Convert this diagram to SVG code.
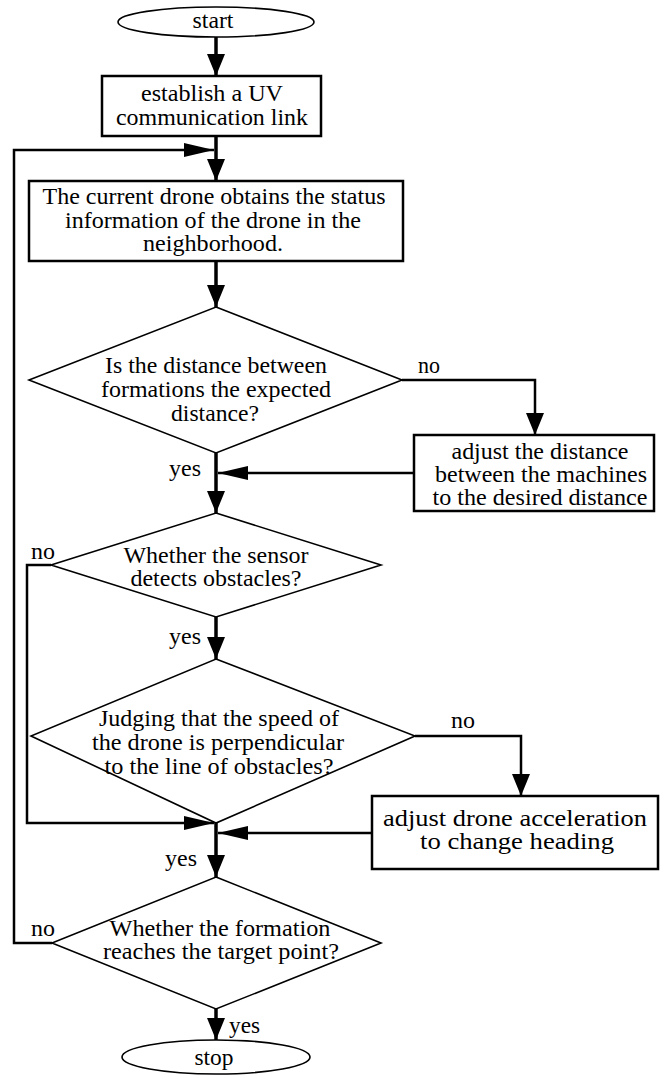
<svg xmlns="http://www.w3.org/2000/svg" width="670" height="1075" viewBox="0 0 670 1075">
<style>
.t{text-anchor:middle}
.box{fill:#fff;stroke:#000;stroke-width:2.5}
.dia{fill:#fff;stroke:#000;stroke-width:1.6}
.ell{fill:#fff;stroke:#000;stroke-width:1.6}
.main{fill:none;stroke:#000;stroke-width:3.5}
.side{fill:none;stroke:#000;stroke-width:2.5}
</style>
<defs>
<marker id="ah" markerUnits="userSpaceOnUse" markerWidth="22" markerHeight="20" refX="22" refY="9" orient="auto" viewBox="0 0 22 18"><path d="M0,0 L22,9 L0,18 z" fill="#000"/></marker>
<marker id="ahs" markerUnits="userSpaceOnUse" markerWidth="30" markerHeight="14" refX="30" refY="7" orient="auto" viewBox="0 0 30 14"><path d="M0,0 L30,7 L0,14 z" fill="#000"/></marker>
</defs>
<rect width="670" height="1075" fill="#fff"/>
<g id="connectors">
<line class="main" x1="216" y1="37" x2="216" y2="76" marker-end="url(#ah)"/>
<line class="main" x1="216" y1="136" x2="216" y2="181" marker-end="url(#ah)"/>
<line class="main" x1="216" y1="261" x2="216" y2="307" marker-end="url(#ah)"/>
<line class="main" x1="216" y1="453" x2="216" y2="513" marker-end="url(#ah)"/>
<line class="main" x1="216" y1="617" x2="216" y2="659" marker-end="url(#ah)"/>
<line class="main" x1="216" y1="823" x2="216" y2="877" marker-end="url(#ah)"/>
<line class="main" x1="216" y1="1009" x2="216" y2="1040" marker-end="url(#ah)"/>
<polyline class="side" points="52,943 14,943 14,150 214,150" marker-end="url(#ahs)"/>
<polyline class="side" points="51,565 27,565 27,823 214,823" marker-end="url(#ahs)"/>
<polyline class="side" points="414,473 218,473" marker-end="url(#ahs)"/>
<polyline class="side" points="372,833 218,833" marker-end="url(#ahs)"/>
<polyline class="side" points="402,380 535,380 535,435" marker-end="url(#ah)"/>
<polyline class="side" points="415,736 521,736 521,796" marker-end="url(#ah)"/>
</g>
<g font-family="Liberation Serif, Times New Roman, serif" font-size="22.5" fill="#000">
<g id="start"><ellipse class="ell" cx="216" cy="22" rx="98" ry="15"/><text class="t" x="213" y="28" textLength="41" lengthAdjust="spacingAndGlyphs">start</text></g>
<g id="link"><rect class="box" x="102" y="76" width="219" height="60"/>
<text class="t" x="212" y="101" textLength="142" lengthAdjust="spacingAndGlyphs">establish a UV</text>
<text class="t" x="212" y="125" textLength="192" lengthAdjust="spacingAndGlyphs">communication link</text></g>
<g id="status"><rect class="box" x="29" y="181" width="374" height="80"/>
<text class="t" x="214" y="204" textLength="343" lengthAdjust="spacingAndGlyphs">The current drone obtains the status</text>
<text class="t" x="213" y="228" textLength="296" lengthAdjust="spacingAndGlyphs">information of the drone in the</text>
<text class="t" x="213" y="251" textLength="140" lengthAdjust="spacingAndGlyphs">neighborhood.</text></g>
<g id="d1"><polygon class="dia" points="216,307 402,380 216,453 29,380"/>
<text class="t" x="216" y="373" textLength="222" lengthAdjust="spacingAndGlyphs">Is the distance between</text>
<text class="t" x="216" y="397" textLength="230" lengthAdjust="spacingAndGlyphs">formations the expected</text>
<text class="t" x="215" y="421" textLength="88" lengthAdjust="spacingAndGlyphs">distance?</text></g>
<g id="adjdist"><rect class="box" x="414" y="435" width="240" height="76"/>
<text class="t" x="540" y="459" textLength="177" lengthAdjust="spacingAndGlyphs">adjust the distance</text>
<text class="t" x="541" y="482" textLength="212" lengthAdjust="spacingAndGlyphs">between the machines</text>
<text class="t" x="540" y="505" textLength="215" lengthAdjust="spacingAndGlyphs">to the desired distance</text></g>
<g id="d2"><polygon class="dia" points="216,513 381,565 216,617 51,565"/>
<text class="t" x="216" y="563" textLength="185" lengthAdjust="spacingAndGlyphs">Whether the sensor</text>
<text class="t" x="216" y="586" textLength="171" lengthAdjust="spacingAndGlyphs">detects obstacles?</text></g>
<g id="d3"><polygon class="dia" points="216,659 415,736 216,823 31,736"/>
<text class="t" x="219" y="726" textLength="240" lengthAdjust="spacingAndGlyphs">Judging that the speed of</text>
<text class="t" x="218" y="750" textLength="252" lengthAdjust="spacingAndGlyphs">the drone is perpendicular</text>
<text class="t" x="219" y="774" textLength="229" lengthAdjust="spacingAndGlyphs">to the line of obstacles?</text></g>
<g id="adjacc"><rect class="box" x="372" y="796" width="286" height="73" stroke-width="3"/>
<text class="t" x="515" y="826" textLength="264" lengthAdjust="spacingAndGlyphs">adjust drone acceleration</text>
<text class="t" x="517" y="849" textLength="194" lengthAdjust="spacingAndGlyphs">to change heading</text></g>
<g id="d4"><polygon class="dia" points="216,877 381,943 216,1009 52,943"/>
<text class="t" x="220" y="936" textLength="221" lengthAdjust="spacingAndGlyphs">Whether the formation</text>
<text class="t" x="221" y="959" textLength="236" lengthAdjust="spacingAndGlyphs">reaches the target point?</text></g>
<g id="stop"><ellipse class="ell" cx="216" cy="1057" rx="94" ry="17"/><text class="t" x="214" y="1065" textLength="39" lengthAdjust="spacingAndGlyphs">stop</text></g>
<g id="labels">
<text x="418" y="373" textLength="22" lengthAdjust="spacingAndGlyphs">no</text>
<text x="169" y="476" textLength="32" lengthAdjust="spacingAndGlyphs">yes</text>
<text x="31" y="559" textLength="24" lengthAdjust="spacingAndGlyphs">no</text>
<text x="169" y="644" textLength="32" lengthAdjust="spacingAndGlyphs">yes</text>
<text x="451" y="728" textLength="24" lengthAdjust="spacingAndGlyphs">no</text>
<text x="165" y="866" textLength="32" lengthAdjust="spacingAndGlyphs">yes</text>
<text x="31" y="936" textLength="24" lengthAdjust="spacingAndGlyphs">no</text>
<text x="229" y="1033" textLength="31" lengthAdjust="spacingAndGlyphs">yes</text>
</g>
</g>
</svg>
